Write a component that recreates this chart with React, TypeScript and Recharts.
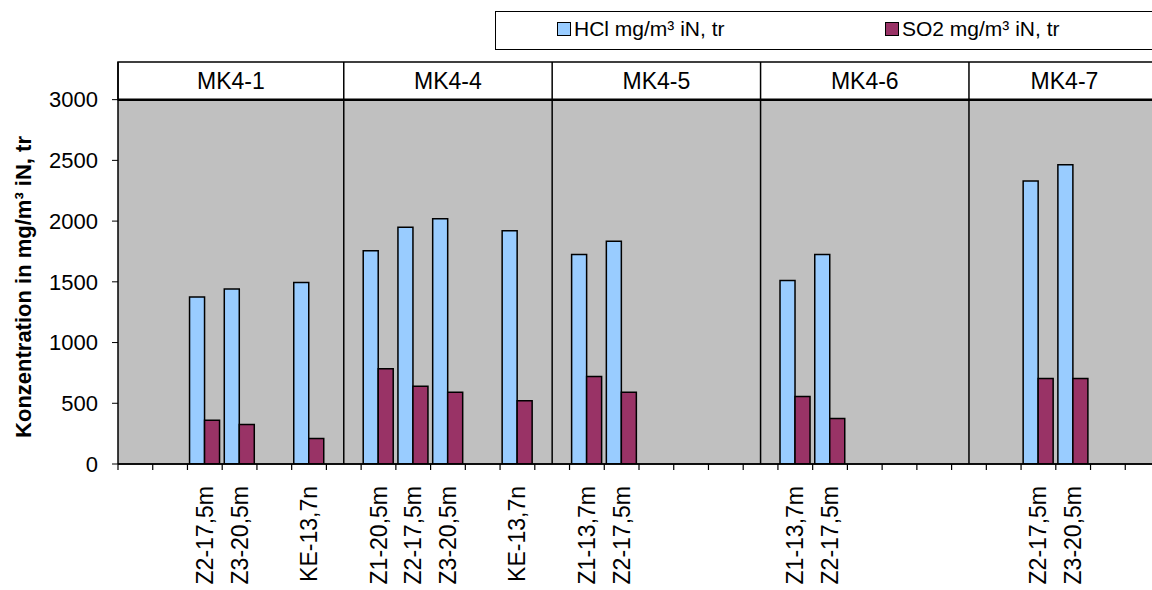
import React from "react";
import {
  BarChart,
  Bar,
  XAxis,
  YAxis,
  ReferenceArea,
  ReferenceLine,
  Legend,
} from "recharts";

const FONT = '"Liberation Sans", Arial, sans-serif';

// one slot per position on the x axis; empty slots keep the spacing between sites
const slotLabels = [
  "", "", "Z2-17,5m", "Z3-20,5m", "", "KE-13,7n",
  "", "Z1-20,5m", "Z2-17,5m", "Z3-20,5m", "", "KE-13,7n",
  "", "Z1-13,7m", "Z2-17,5m", "", "", "",
  "", "Z1-13,7m", "Z2-17,5m", "", "", "",
  "", "", "Z2-17,5m", "Z3-20,5m", "", "",
];

const hclValues = [
  null, null, 1375, 1440, null, 1495,
  null, 1755, 1950, 2020, null, 1920,
  null, 1725, 1835, null, null, null,
  null, 1510, 1725, null, null, null,
  null, null, 2330, 2465, null, null,
];

const so2Values = [
  null, null, 360, 325, null, 210,
  null, 785, 640, 590, null, 520,
  null, 720, 590, null, null, null,
  null, 555, 375, null, null, null,
  null, null, 705, 705, null, null,
];

// measuring sites, separated at these slot positions
const groupNames = ["MK4-1", "MK4-4", "MK4-5", "MK4-6", "MK4-7"];
const groupBounds = [-0.5, 6, 12, 18, 24, 29.5];

const yTicks = [0, 500, 1000, 1500, 2000, 2500, 3000];
const Y_TOP = 3000;
const HEADER_TOP = 3310;

const HCL_COLOR = "#99CCFF";
const SO2_COLOR = "#993366";

const data = slotLabels.map((_, i) => ({
  slot: i,
  hcl: hclValues[i],
  so2: so2Values[i],
}));

const slotDomain = [-0.5, slotLabels.length - 0.5];
const slotEdges = Array.from({ length: slotLabels.length + 1 }, (_, i) => i - 0.5);
const groupCenters = groupNames.map((_, i) => (groupBounds[i] + groupBounds[i + 1]) / 2);
const dividers = groupBounds.slice(1, -1);

// tick marks only, between the slots
const NoLabel = () => <g />;

const SlotTick = ({ x, y, payload }: any) => {
  const label = slotLabels[payload.value];
  if (!label) return null;
  const ty = y + 16;
  return (
    <text
      x={x}
      y={ty}
      transform={`rotate(-90 ${x} ${ty})`}
      textAnchor="end"
      dominantBaseline="central"
      fontFamily={FONT}
      fontSize={23}
      fill="#000"
    >
      {label}
    </text>
  );
};

const GroupTick = ({ x, y, payload }: any) => {
  const idx = groupCenters.indexOf(payload.value);
  return (
    <text
      x={x}
      y={y + 19}
      textAnchor="middle"
      dominantBaseline="central"
      fontFamily={FONT}
      fontSize={23}
      fill="#000"
    >
      {groupNames[idx]}
    </text>
  );
};

const AxisTitle = ({ viewBox }: any) => {
  const cx = viewBox.x + 23;
  const cy = viewBox.y + viewBox.height / 2 + 24;
  return (
    <text
      x={cx}
      y={cy}
      transform={`rotate(-90 ${cx} ${cy})`}
      textAnchor="middle"
      dominantBaseline="central"
      fontFamily={FONT}
      fontSize={22}
      fontWeight="bold"
      fill="#000"
    >
      Konzentration in mg/m³ iN, tr
    </text>
  );
};

const LegendBox = ({ payload }: any) => (
  <div
    style={{
      width: 680,
      height: 39,
      border: "1px solid #000",
      boxSizing: "border-box",
      background: "#fff",
      position: "relative",
      fontFamily: FONT,
      fontSize: 21,
      color: "#000",
    }}
  >
    {(payload || []).map((entry: any, i: number) => (
      <div
        key={entry.value}
        style={{
          position: "absolute",
          left: 61 + i * 328,
          top: 5,
          display: "flex",
          alignItems: "center",
          whiteSpace: "nowrap",
        }}
      >
        <span
          style={{
            display: "inline-block",
            width: 12,
            height: 12,
            border: "1px solid #000",
            background: entry.dataKey === "so2" ? SO2_COLOR : HCL_COLOR,
            marginRight: 3,
          }}
        />
        {entry.value}
      </div>
    ))}
  </div>
);

export default function App() {
  return (
    <div style={{ width: 1152, height: 590, overflow: "hidden", background: "#fff" }}>
      <style>{`body{margin:0;overflow:hidden}`}</style>
      <BarChart
        width={1172}
        height={590}
        data={data}
        margin={{ top: 62, right: 12, bottom: 0, left: 0 }}
        barCategoryGap="6%"
        barGap={0}
      >
        <XAxis
          xAxisId="slots"
          dataKey="slot"
          type="category"
          interval={0}
          tickLine={false}
          axisLine={false}
          tickSize={0}
          tickMargin={0}
          height={120}
          tick={<SlotTick />}
        />
        <XAxis
          xAxisId={0}
          dataKey="slot"
          type="number"
          domain={slotDomain}
          allowDataOverflow
          ticks={slotEdges}
          interval={0}
          tick={<NoLabel />}
          tickSize={6}
          height={6}
          axisLine={{ stroke: "#000", strokeWidth: 1.5 }}
          tickLine={{ stroke: "#000", strokeWidth: 1.2 }}
        />
        <XAxis
          xAxisId="groups"
          dataKey="slot"
          orientation="top"
          type="number"
          domain={slotDomain}
          allowDataOverflow
          ticks={groupCenters}
          interval={0}
          mirror
          tickLine={false}
          axisLine={false}
          tickSize={0}
          tickMargin={0}
          tick={<GroupTick />}
        />
        <YAxis
          domain={[0, HEADER_TOP]}
          allowDataOverflow
          ticks={yTicks}
          interval={0}
          width={118}
          tickSize={6}
          tickMargin={14}
          axisLine={{ stroke: "#000", strokeWidth: 1.5 }}
          tickLine={{ stroke: "#000" }}
          tick={{ fill: "#000", fontSize: 22, fontFamily: FONT }}
          label={<AxisTitle />}
        />
        <ReferenceArea y1={0} y2={Y_TOP} fill="#C0C0C0" fillOpacity={1} stroke="none" />
        <ReferenceArea
          y1={Y_TOP}
          y2={HEADER_TOP}
          fill="#fff"
          fillOpacity={1}
          stroke="#000"
          strokeWidth={1.5}
        />
        <ReferenceLine y={Y_TOP} stroke="#000" strokeWidth={2.5} />
        <ReferenceLine y={0} stroke="#000" strokeWidth={1.5} />
        {dividers.map((d) => (
          <ReferenceLine key={d} xAxisId="groups" x={d} stroke="#000" strokeWidth={1.5} />
        ))}
        <Legend
          layout="horizontal"
          verticalAlign="middle"
          content={<LegendBox />}
          wrapperStyle={{ top: 11, left: 495, width: 680, height: 39 }}
        />
        <Bar
          xAxisId="slots"
          dataKey="hcl"
          name="HCl mg/m³ iN, tr"
          fill={HCL_COLOR}
          stroke="#000"
          strokeWidth={1.5}
          isAnimationActive={false}
        />
        <Bar
          xAxisId="slots"
          dataKey="so2"
          name="SO2 mg/m³ iN, tr"
          fill={SO2_COLOR}
          stroke="#000"
          strokeWidth={1.5}
          isAnimationActive={false}
        />
      </BarChart>
    </div>
  );
}
